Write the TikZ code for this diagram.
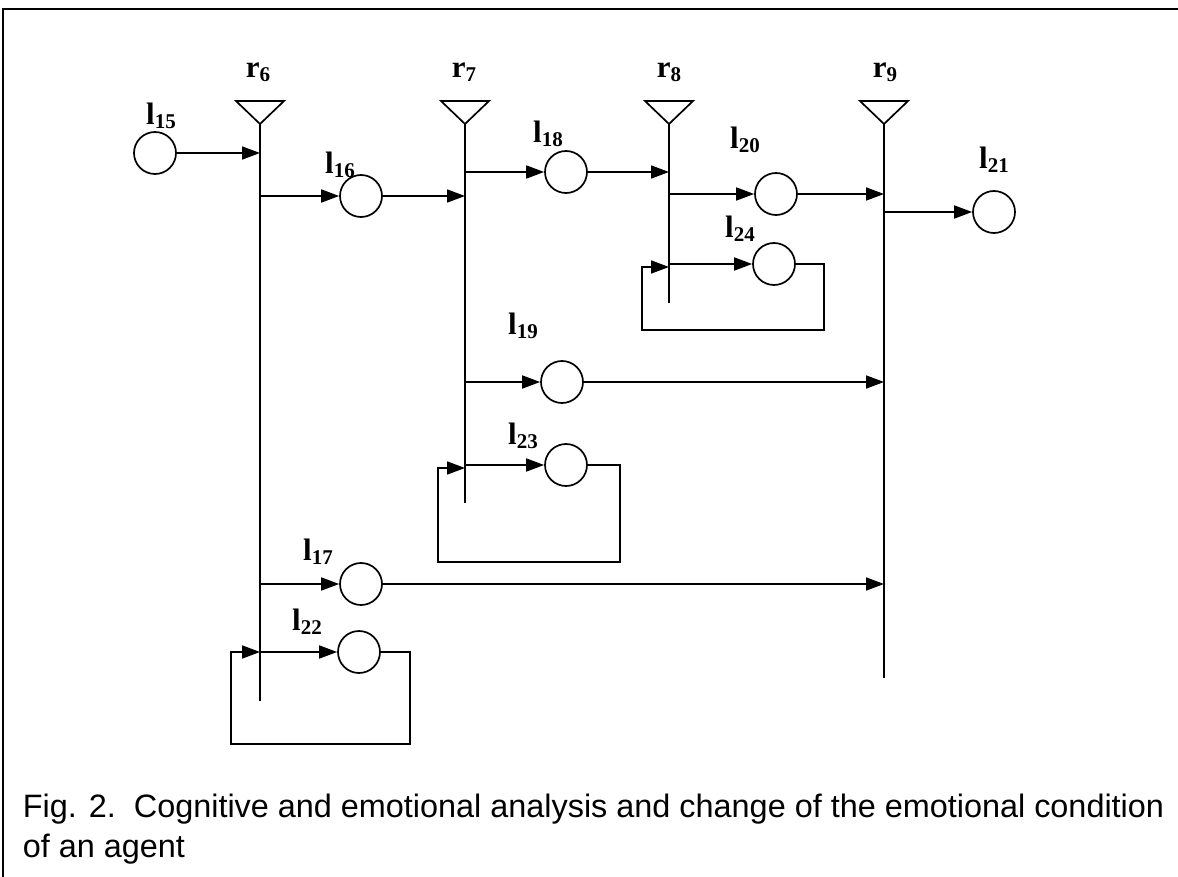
\documentclass[tikz,border=0pt]{standalone}
\usepackage{fontspec}
\setmainfont{Liberation Serif}
\newfontfamily\capfont{Liberation Sans}
\usetikzlibrary{arrows.meta}
\newcommand\lsub[1]{\raisebox{-4pt}{\fontsize{21}{21}\selectfont #1}}
\begin{document}
\begin{tikzpicture}[x=1pt,y=-1pt, line width=1.7pt,
  place/.style={circle,draw,minimum size=42pt,inner sep=0pt},
  arr/.style={-{Triangle[length=18pt,width=13pt]}},
  lbl/.style={font=\fontsize{31}{34}\selectfont\bfseries, inner sep=0pt},
  capt/.style={font=\capfont\fontsize{32.4}{38}\selectfont, anchor=base west, inner sep=0pt}]
\useasboundingbox (0,0) rectangle (1178,877);
\draw[line width=2pt] (3,877) -- (3,9) -- (1178,9);

% bars (transitions)
\draw (236,101) -- (284,101) -- (260,124) -- cycle; \coordinate (r6) at (260,124); \coordinate (r6b) at (260,701);
\draw (441,101) -- (489,101) -- (465,124) -- cycle; \coordinate (r7) at (465,124); \coordinate (r7b) at (465,503);
\draw (645,101) -- (693,101) -- (669,124) -- cycle; \coordinate (r8) at (669,124); \coordinate (r8b) at (669,303);
\draw (860,101) -- (908,101) -- (884,124) -- cycle; \coordinate (r9) at (884,124); \coordinate (r9b) at (884,678);
\draw (r6) -- (r6b);
\draw (r7) -- (r7b);
\draw (r8) -- (r8b);
\draw (r9) -- (r9b);

\node[lbl] (tr6) at (258,72) {r\lsub{6}};
\node[lbl] (tr7) at (464,72) {r\lsub{7}};
\node[lbl] (tr8) at (669,72) {r\lsub{8}};
\node[lbl] (tr9) at (885,72) {r\lsub{9}};

% places
\node[place] (l15) at (155,153) {};
\node[place] (l16) at (361,196) {};
\node[place] (l18) at (566,172) {};
\node[place] (l20) at (776,194) {};
\node[place] (l24) at (774,264) {};
\node[place] (l21) at (994,212) {};
\node[place] (l19) at (562,382) {};
\node[place] (l23) at (566,465) {};
\node[place] (l17) at (361,584) {};
\node[place] (l22) at (359,652) {};

\node[lbl] (t15) at (161,116) {l\lsub{15}};
\node[lbl] (t16) at (340,165) {l\lsub{16}};
\node[lbl] (t18) at (548,134) {l\lsub{18}};
\node[lbl] (t20) at (745,140) {l\lsub{20}};
\node[lbl] (t24) at (740,229) {l\lsub{24}};
\node[lbl] (t21) at (994,160) {l\lsub{21}};
\node[lbl] (t19) at (523,326) {l\lsub{19}};
\node[lbl] (t23) at (523,436) {l\lsub{23}};
\node[lbl] (t17) at (318,552) {l\lsub{17}};
\node[lbl] (t22) at (307,622) {l\lsub{22}};

% arcs
\draw[arr] (l15) -- (l15 -| r6);
\draw[arr] (l16 -| r6) -- (l16);
\draw[arr] (l16) -- (l16 -| r7);
\draw[arr] (l18 -| r7) -- (l18);
\draw[arr] (l18) -- (l18 -| r8);
\draw[arr] (l20 -| r8) -- (l20);
\draw[arr] (l20) -- (l20 -| r9);
\draw[arr] (l21 -| r9) -- (l21);
\draw[arr] (l19 -| r7) -- (l19);
\draw[arr] (l19) -- (l19 -| r9);
\draw[arr] (l17 -| r6) -- (l17);
\draw[arr] (l17) -- (l17 -| r9);

% self loops
\draw[arr] (l24 -| r8) -- (l24);
\coordinate (a24) at (824,330); \coordinate (b24) at (642,267);
\draw[arr] (l24.east) -| (a24) -| (b24) -- (b24 -| r8);
\draw[arr] (l23 -| r7) -- (l23);
\coordinate (a23) at (620,562); \coordinate (b23) at (438,468);
\draw[arr] (l23.east) -| (a23) -| (b23) -- (b23 -| r7);
\draw[arr] (l22 -| r6) -- (l22);
\coordinate (a22) at (410,744); \coordinate (b22) at (231,652);
\draw[arr] (l22.east) -| (a22) -| (b22) -- (b22 -| r6);

% caption
\node[capt] (cap1) at (22,817) {Fig. 2.\ \ Cognitive and emotional analysis and change of the emotional condition};
\node[capt] (cap2) at (22,857) {of an agent};
\end{tikzpicture}
\end{document}
